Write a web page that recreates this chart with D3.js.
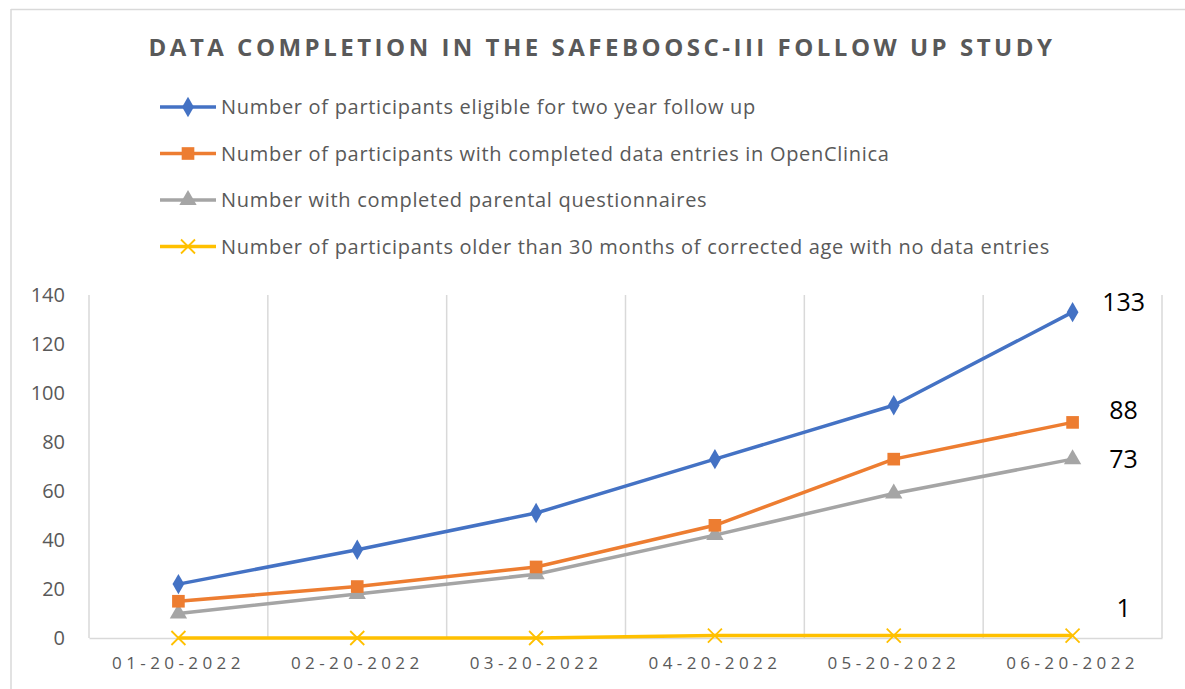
<!DOCTYPE html>
<html>
<head>
<meta charset="utf-8">
<script src="https://cdn.jsdelivr.net/npm/d3@7"></script>
<style>
  body { margin: 0; background: #fff; }
  text { font-family: "Open Sans", "Noto Sans", sans-serif; }
</style>
</head>
<body>
<div id="chart"></div>
<script>
// data
var dates = ["01-20-2022", "02-20-2022", "03-20-2022", "04-20-2022", "05-20-2022", "06-20-2022"];
var eligible = [22, 36, 51, 73, 95, 133];
var completedEntries = [15, 21, 29, 46, 73, 88];
var parentalQuest = [10, 18, 26, 42, 59, 73];
var olderNoEntries = [0, 0, 0, 1, 1, 1];
var yTicks = [0, 20, 40, 60, 80, 100, 120, 140];

var seriesNames = [
    "Number of participants eligible for two year follow up",
    "Number of participants with completed data entries in OpenClinica",
    "Number with completed parental questionnaires",
    "Number of participants older than 30 months of corrected age with no data entries"
];
var seriesColors = ["#4472C4", "#ED7D31", "#A5A5A5", "#FFC000"];
var seriesMarkers = ["diamond", "square", "triangle", "cross"];

var series = [eligible, completedEntries, parentalQuest, olderNoEntries].map(function(vals, i) {
    return { name: seriesNames[i], color: seriesColors[i], marker: seriesMarkers[i], values: vals };
});

var svgWidth = 1185;
var svgHeight = 689;
var margin = { top: 295, right: 23, bottom: 51, left: 89 };
var width = svgWidth - margin.left - margin.right;
var height = svgHeight - margin.top - margin.bottom;

var svg = d3.select("#chart")
    .append("svg")
    .attr("width", svgWidth)
    .attr("height", svgHeight);

// outer chart frame (only top and left edges are in view)
svg.append("line").attr("x1", 11).attr("x2", svgWidth).attr("y1", 9.5).attr("y2", 9.5)
    .attr("stroke", "#d9d9d9").attr("stroke-width", 1.5);
svg.append("line").attr("x1", 11).attr("x2", 11).attr("y1", 9).attr("y2", svgHeight)
    .attr("stroke", "#d9d9d9").attr("stroke-width", 1.5);

// title
svg.append("text")
    .attr("x", 602)
    .attr("y", 56)
    .attr("text-anchor", "middle")
    .attr("font-size", "24px")
    .attr("font-weight", "bold")
    .attr("letter-spacing", "3.5px")
    .attr("fill", "#595959")
    .text("DATA COMPLETION IN THE SAFEBOOSC-III FOLLOW UP STUDY");

var chartGroup = svg.append("g")
    .attr("transform", `translate(${margin.left}, ${margin.top})`);

// scales
var xBand = d3.scaleBand().domain(dates).range([0, width]);
var yScale = d3.scaleLinear().domain([0, 140]).range([height, 0]);
var xCenter = function(d) { return xBand(d) + xBand.bandwidth() / 2; };

// vertical gridlines at category boundaries
var boundaries = dates.map(function(d) { return xBand(d); }).concat([width]);
chartGroup.selectAll(".vgrid")
    .data(boundaries)
    .enter()
    .append("line")
        .attr("class", "vgrid")
        .attr("x1", d => d).attr("x2", d => d)
        .attr("y1", 0).attr("y2", height)
        .attr("stroke", "#d9d9d9")
        .attr("stroke-width", 1.5);

// x axis
var bottomAxis = d3.axisBottom(xBand).tickSize(0).tickPadding(19);
var xAxis = chartGroup.append("g")
    .attr("transform", `translate(0, ${height})`)
    .call(bottomAxis);
xAxis.select(".domain").attr("stroke", "#d9d9d9").attr("stroke-width", 1.5);
xAxis.selectAll("text")
    .attr("font-size", "17px")
    .attr("letter-spacing", "4.4px")
    .attr("fill", "#595959");

// y axis
var leftAxis = d3.axisLeft(yScale).tickValues(yTicks).tickSize(0).tickPadding(24);
var yAxis = chartGroup.append("g").call(leftAxis);
yAxis.select(".domain").remove();
yAxis.selectAll("text")
    .attr("font-size", "20px")
    .attr("fill", "#595959");

// lines
var line = d3.line()
    .x(function(d, i) { return xCenter(dates[i]); })
    .y(function(d) { return yScale(d); });

function markerPath(type) {
    if (type === "diamond") return d3.symbol().type(d3.symbolDiamond).size(120)();
    if (type === "square") return d3.symbol().type(d3.symbolSquare).size(160)();
    if (type === "triangle") return d3.symbol().type(d3.symbolTriangle).size(130)();
    return "M-7,-7L7,7M-7,7L7,-7";
}

function drawMarker(g, s) {
    var p = g.append("path").attr("d", markerPath(s.marker));
    if (s.marker === "cross") {
        p.attr("fill", "none").attr("stroke", s.color).attr("stroke-width", 1.8);
    } else {
        p.attr("fill", s.color);
    }
}

// draw the flat yellow series first so the others sit on top
series.slice().reverse().forEach(function(s) {
    chartGroup.append("path")
        .datum(s.values)
        .attr("fill", "none")
        .attr("stroke", s.color)
        .attr("stroke-width", 3.5)
        .attr("stroke-linejoin", "round")
        .attr("d", line);

    s.values.forEach(function(v, i) {
        var g = chartGroup.append("g")
            .attr("transform", `translate(${xCenter(dates[i])}, ${yScale(v)})`);
        drawMarker(g, s);
    });
});

// end value labels
var labelYOffset = [-10, -12, 0, -27];
series.forEach(function(s, i) {
    var last = s.values[s.values.length - 1];
    chartGroup.append("text")
        .attr("x", xCenter(dates[dates.length - 1]) + 51)
        .attr("y", yScale(last) + labelYOffset[i])
        .attr("dy", "0.35em")
        .attr("text-anchor", "middle")
        .attr("font-size", "25px")
        .attr("fill", "#000")
        .text(last);
});

// legend
var legend = svg.append("g").attr("transform", "translate(160, 107)");
series.forEach(function(s, i) {
    var row = legend.append("g").attr("transform", `translate(0, ${i * 46.5})`);
    row.append("line")
        .attr("x1", 0).attr("x2", 56)
        .attr("stroke", s.color)
        .attr("stroke-width", 3.5);
    drawMarker(row.append("g").attr("transform", "translate(28, 0)"), s);
    row.append("text")
        .attr("x", 61)
        .attr("dy", "0.35em")
        .attr("font-size", "20px")
        .attr("letter-spacing", "0.7px")
        .attr("fill", "#595959")
        .text(s.name);
});
</script>
</body>
</html>
